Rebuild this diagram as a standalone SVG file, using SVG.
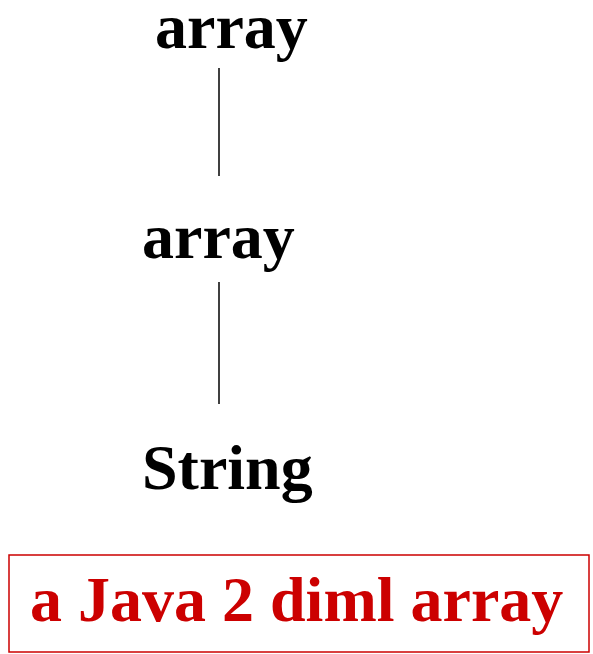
<svg xmlns="http://www.w3.org/2000/svg" width="593" height="654" viewBox="0 0 593 654">
<style>
.t{font-family:"Liberation Serif","Times New Roman",serif;font-weight:bold;font-size:64px;fill:#000}
.r{fill:#cc0000}
.c{stroke:#000;stroke-width:1.5;fill:none}
</style>
<rect width="593" height="654" fill="#fff"/>
<g id="connectors">
<line class="c" x1="219" y1="68" x2="219" y2="176"/>
<line class="c" x1="219" y1="282" x2="219" y2="404"/>
</g>
<g id="array1"><text class="t" x="155" y="48">array</text></g>
<g id="array2"><text class="t" x="142" y="258">array</text></g>
<g id="string"><text class="t" x="142" y="489">String</text></g>
<g id="caption">
<rect x="9" y="555" width="580" height="97" fill="none" stroke="#cc0000" stroke-width="1.5"/>
<text class="t r" x="30" y="621">a Java 2 diml array</text>
</g>
</svg>
